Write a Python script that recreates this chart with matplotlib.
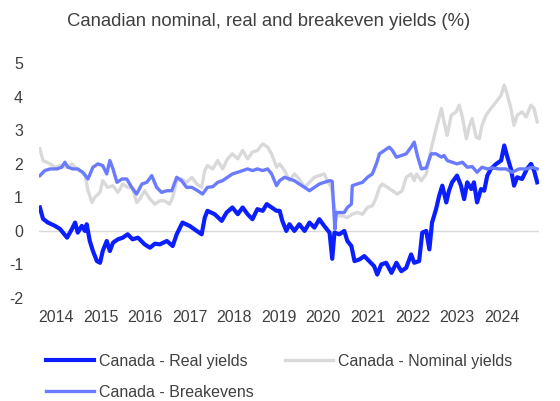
import matplotlib
matplotlib.use("Agg")
import matplotlib.pyplot as plt

plt.rcParams['font.family'] = ['Liberation Sans', 'DejaVu Sans']
plt.rcParams['axes.unicode_minus'] = False

# Canada - Real yields (decimal year, %)
real_t = [2013.64, 2013.71, 2013.82, 2013.98, 2014.09, 2014.25, 2014.36, 2014.43, 2014.49, 2014.58,
          2014.65, 2014.69, 2014.76, 2014.83, 2014.92, 2014.99, 2015.05, 2015.14, 2015.21, 2015.28,
          2015.39, 2015.50, 2015.61, 2015.72, 2015.84, 2015.99, 2016.11, 2016.22, 2016.33, 2016.49,
          2016.62, 2016.71, 2016.84, 2017.00, 2017.16, 2017.27, 2017.34, 2017.40, 2017.56, 2017.72,
          2017.83, 2017.96, 2018.08, 2018.19, 2018.30, 2018.41, 2018.52, 2018.64, 2018.73, 2018.84,
          2018.95, 2019.02, 2019.08, 2019.17, 2019.24, 2019.35, 2019.46, 2019.58, 2019.69, 2019.80,
          2019.91, 2020.02, 2020.14, 2020.20, 2020.25, 2020.36, 2020.47, 2020.54, 2020.63, 2020.70,
          2020.81, 2020.92, 2021.03, 2021.14, 2021.21, 2021.30, 2021.41, 2021.53, 2021.64, 2021.75,
          2021.86, 2021.97, 2022.04, 2022.15, 2022.22, 2022.31, 2022.38, 2022.44, 2022.53, 2022.60,
          2022.67, 2022.76, 2022.82, 2022.89, 2023.00, 2023.09, 2023.16, 2023.23, 2023.32, 2023.38,
          2023.45, 2023.54, 2023.61, 2023.68, 2023.76, 2023.88, 2023.99, 2024.06, 2024.12, 2024.21,
          2024.28, 2024.35, 2024.46, 2024.57, 2024.66, 2024.73, 2024.80]
real_v = [0.70, 0.36, 0.25, 0.15, 0.06, -0.20, 0.06, 0.25, -0.05, 0.15,
          0.00, 0.20, -0.30, -0.60, -0.90, -0.95, -0.60, -0.30, -0.60, -0.35,
          -0.25, -0.20, -0.10, -0.25, -0.20, -0.40, -0.50, -0.38, -0.40, -0.30,
          -0.45, -0.10, 0.25, 0.15, 0.00, -0.10, 0.40, 0.60, 0.50, 0.30,
          0.55, 0.70, 0.50, 0.70, 0.50, 0.35, 0.65, 0.60, 0.80, 0.70,
          0.60, 0.60, 0.30, 0.00, 0.20, 0.00, 0.20, 0.00, 0.25, 0.10,
          0.35, 0.15, -0.05, -0.83, -0.05, -0.10, 0.00, -0.30, -0.45, -0.90,
          -0.85, -0.75, -0.90, -1.05, -1.30, -1.00, -0.95, -1.25, -0.95, -1.20,
          -1.10, -0.70, -0.95, -0.90, -0.05, 0.00, -0.55, 0.25, 0.65, 1.05,
          1.35, 0.85, 1.20, 1.45, 1.65, 1.35, 0.95, 1.45, 1.25, 1.45,
          0.85, 1.25, 1.20, 1.65, 1.85, 2.00, 2.10, 2.55, 2.25, 1.85,
          1.35, 1.60, 1.55, 1.85, 2.00, 1.80, 1.45]

# Canada - Nominal yields
nom_t = [2013.64, 2013.71, 2013.87, 2013.98, 2014.09, 2014.25, 2014.36, 2014.47, 2014.58, 2014.65,
         2014.72, 2014.81, 2014.87, 2014.99, 2015.05, 2015.16, 2015.28, 2015.39, 2015.50, 2015.61,
         2015.72, 2015.81, 2015.88, 2015.99, 2016.11, 2016.22, 2016.33, 2016.44, 2016.55, 2016.62,
         2016.71, 2016.82, 2016.93, 2017.05, 2017.16, 2017.27, 2017.34, 2017.40, 2017.52, 2017.63,
         2017.74, 2017.85, 2017.96, 2018.08, 2018.19, 2018.30, 2018.41, 2018.52, 2018.64, 2018.75,
         2018.84, 2018.95, 2019.02, 2019.13, 2019.24, 2019.35, 2019.46, 2019.58, 2019.69, 2019.80,
         2019.91, 2020.02, 2020.09, 2020.18, 2020.25, 2020.32, 2020.43, 2020.54, 2020.65, 2020.76,
         2020.88, 2020.99, 2021.10, 2021.19, 2021.26, 2021.32, 2021.44, 2021.55, 2021.66, 2021.77,
         2021.86, 2021.97, 2022.04, 2022.09, 2022.20, 2022.31, 2022.42, 2022.53, 2022.65, 2022.71,
         2022.78, 2022.87, 2022.98, 2023.05, 2023.12, 2023.21, 2023.27, 2023.34, 2023.43, 2023.50,
         2023.56, 2023.65, 2023.76, 2023.88, 2023.99, 2024.06, 2024.12, 2024.21, 2024.28, 2024.35,
         2024.46, 2024.55, 2024.66, 2024.73, 2024.80]
nom_v = [2.45, 2.10, 2.00, 1.90, 1.95, 1.90, 2.00, 1.85, 1.75, 1.70,
         1.20, 0.85, 1.00, 1.15, 1.50, 1.30, 1.35, 1.15, 1.40, 1.30,
         1.28, 0.85, 0.95, 1.20, 0.95, 0.80, 0.90, 0.90, 0.80, 1.00,
         1.50, 1.55, 1.45, 1.60, 1.40, 1.30, 1.80, 1.95, 1.85, 2.10,
         1.85, 2.15, 2.30, 2.15, 2.40, 2.15, 2.35, 2.40, 2.60, 2.50,
         2.30, 1.90, 2.00, 1.80, 1.50, 1.70, 1.55, 1.30, 1.45, 1.60,
         1.65, 1.70, 1.50, 1.30, 0.70, 0.45, 0.45, 0.40, 0.50, 0.55,
         0.50, 0.70, 0.75, 1.00, 1.30, 1.40, 1.30, 1.20, 1.10, 1.20,
         1.60, 1.70, 1.50, 1.70, 1.50, 1.70, 2.45, 3.05, 3.65, 3.25,
         2.85, 3.45, 3.55, 3.75, 3.40, 2.75, 3.10, 3.35, 2.80, 2.75,
         3.15, 3.45, 3.65, 3.85, 4.05, 4.35, 4.10, 3.65, 3.15, 3.45,
         3.55, 3.40, 3.75, 3.65, 3.25]

# Canada - Breakevens
be_t = [2013.64, 2013.75, 2013.87, 2014.02, 2014.13, 2014.20, 2014.27, 2014.38, 2014.49, 2014.60,
        2014.72, 2014.83, 2014.94, 2015.05, 2015.14, 2015.21, 2015.28, 2015.37, 2015.48, 2015.59,
        2015.70, 2015.81, 2015.93, 2016.04, 2016.15, 2016.26, 2016.37, 2016.49, 2016.60, 2016.71,
        2016.82, 2016.93, 2017.05, 2017.18, 2017.29, 2017.40, 2017.52, 2017.63, 2017.74, 2017.85,
        2017.96, 2018.08, 2018.19, 2018.30, 2018.41, 2018.52, 2018.64, 2018.75, 2018.84, 2018.95,
        2019.02, 2019.13, 2019.24, 2019.35, 2019.46, 2019.58, 2019.69, 2019.80, 2019.91, 2020.02,
        2020.14, 2020.20, 2020.26, 2020.29, 2020.47, 2020.54, 2020.63, 2020.65, 2020.76, 2020.88,
        2020.99, 2021.10, 2021.19, 2021.26, 2021.37, 2021.48, 2021.55, 2021.64, 2021.75, 2021.86,
        2021.97, 2022.04, 2022.11, 2022.20, 2022.31, 2022.42, 2022.53, 2022.65, 2022.71, 2022.78,
        2022.89, 2023.00, 2023.12, 2023.23, 2023.34, 2023.45, 2023.56, 2023.68, 2023.79, 2023.94,
        2024.10, 2024.24, 2024.39, 2024.55, 2024.68, 2024.80]
be_v = [1.65, 1.80, 1.85, 1.85, 1.90, 2.05, 1.90, 1.85, 1.85, 1.75,
        1.55, 1.90, 2.00, 1.95, 1.70, 2.10, 1.85, 1.45, 1.55, 1.55,
        1.30, 1.10, 1.40, 1.45, 1.65, 1.30, 1.15, 1.20, 1.20, 1.60,
        1.50, 1.30, 1.30, 1.20, 1.10, 1.30, 1.32, 1.45, 1.50, 1.60,
        1.70, 1.75, 1.80, 1.85, 1.80, 1.85, 1.80, 1.85, 1.70, 1.35,
        1.50, 1.60, 1.55, 1.50, 1.40, 1.30, 1.20, 1.30, 1.40, 1.45,
        1.50, 1.48, 0.05, 0.55, 0.55, 0.70, 0.80, 1.35, 1.40, 1.45,
        1.60, 1.70, 2.00, 2.30, 2.40, 2.50, 2.40, 2.20, 2.25, 2.30,
        2.50, 2.65, 2.25, 1.85, 1.88, 2.30, 2.30, 2.20, 2.25, 2.10,
        2.05, 2.00, 2.05, 1.90, 1.92, 1.75, 1.90, 1.85, 1.88, 1.85,
        1.85, 1.75, 1.85, 1.85, 1.90, 1.85]

year_ticks = list(range(2014, 2025))
y_ticks = [-2, -1, 0, 1, 2, 3, 4, 5]

text_col = '#404040'

fig = plt.figure(figsize=(5.6, 4.01), dpi=100)
ax = fig.add_axes([39/560, 103/401, 500/560, 234.7/401])

ax.axhline(0, color='#d9d9d9', lw=1, zorder=0)
l_real, = ax.plot(real_t, real_v, color='#0a1eff', lw=3.0, label='Canada - Real yields', zorder=2)
l_nom, = ax.plot(nom_t, nom_v, color='#d9d9d9', lw=2.4, label='Canada - Nominal yields', zorder=1)
l_be, = ax.plot(be_t, be_v, color='#6b7bff', lw=2.4, label='Canada - Breakevens', zorder=3)

ax.set_xlim(2013.62, 2024.84)
ax.set_ylim(-2, 5)
ax.set_xticks(year_ticks)
ax.set_xticklabels([str(y) for y in year_ticks])
ax.set_yticks(y_ticks)
for s in ax.spines.values():
    s.set_visible(False)
ax.tick_params(axis='both', length=0, labelsize=11.5, colors=text_col)
ax.tick_params(axis='x', pad=9)
ax.tick_params(axis='y', pad=11.5)

fig.text(269/560, 1 - 21/401, 'Canadian nominal, real and breakeven yields (%)',
         ha='center', va='center', fontsize=13.3, color=text_col)

leg = fig.legend(handles=[l_real, l_be, l_nom], ncol=2, frameon=False,
                 loc='upper left', bbox_to_anchor=(38/560, 1 - 346/401),
                 fontsize=11.5, handlelength=3.0, handletextpad=0.3,
                 columnspacing=2.0, labelspacing=1.0, borderpad=0)
for t in leg.get_texts():
    t.set_color(text_col)

fig.savefig('out.png', dpi=100)
